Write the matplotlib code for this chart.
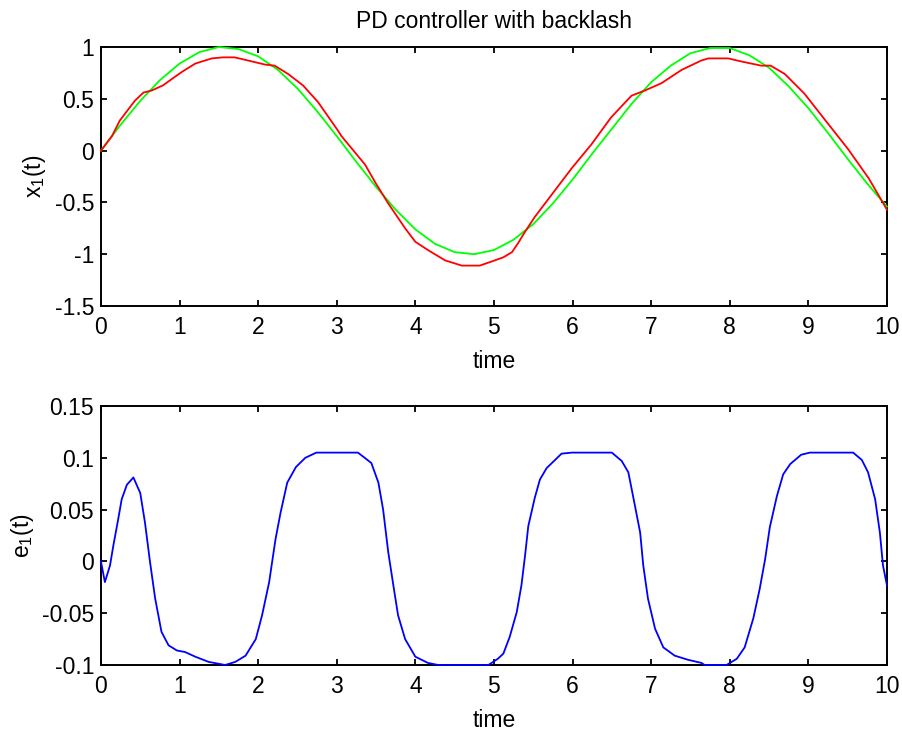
import matplotlib
matplotlib.use("Agg")
import matplotlib.pyplot as plt

# reference signal (green)
t_ref = [0.0, 0.25, 0.5, 0.75, 1.0, 1.25, 1.5, 1.75, 2.0, 2.25, 2.5, 2.75, 3.0, 3.25,
         3.5, 3.75, 4.0, 4.25, 4.5, 4.75, 5.0, 5.25, 5.5, 5.75, 6.0, 6.25, 6.5, 6.75,
         7.0, 7.25, 7.5, 7.75, 8.0, 8.25, 8.5, 8.75, 9.0, 9.25, 9.5, 9.75, 10.0]
x_ref = [0.00, 0.25, 0.48, 0.68, 0.84, 0.95, 1.00, 0.98, 0.91, 0.78, 0.60, 0.38, 0.14, -0.11,
         -0.35, -0.57, -0.76, -0.90, -0.98, -1.00, -0.96, -0.86, -0.71, -0.51, -0.28, -0.03, 0.21, 0.45,
         0.66, 0.82, 0.94, 0.99, 0.99, 0.92, 0.80, 0.62, 0.41, 0.17, -0.08, -0.32, -0.54]

# plant output x1 (red)
t_x1 = [0.0, 0.14, 0.24, 0.35, 0.43, 0.54, 0.645, 0.79, 0.90, 1.03, 1.20, 1.41, 1.55, 1.70,
        1.87, 2.09, 2.21, 2.38, 2.57, 2.76, 3.0, 3.06, 3.36, 3.5, 3.655, 3.87, 4.0, 4.16, 4.38,
        4.59, 4.82, 5.01, 5.12, 5.23, 5.31, 5.39, 5.52, 5.73, 5.99, 6.24, 6.49, 6.75, 6.92,
        7.13, 7.39, 7.64, 7.73, 7.98, 8.15, 8.40, 8.52, 8.70, 8.95, 9.25, 9.51, 9.77, 10.0]
x1 = [0.0, 0.14, 0.29, 0.40, 0.48, 0.56, 0.58, 0.63, 0.69, 0.76, 0.84, 0.89, 0.90, 0.90,
      0.87, 0.83, 0.82, 0.74, 0.63, 0.47, 0.21, 0.14, -0.135, -0.32, -0.51, -0.75, -0.88, -0.96, -1.06,
      -1.11, -1.11, -1.06, -1.03, -0.98, -0.89, -0.79, -0.64, -0.43, -0.17, 0.06, 0.32, 0.53, 0.58,
      0.65, 0.78, 0.87, 0.89, 0.89, 0.86, 0.82, 0.82, 0.74, 0.55, 0.26, 0.01, -0.27, -0.57]

# tracking error e1 (blue)
t_e = [0.0, 0.05, 0.115, 0.157, 0.22, 0.264, 0.33, 0.413, 0.50, 0.56, 0.625, 0.69, 0.77, 0.86,
       0.966, 1.07, 1.2, 1.37, 1.58, 1.71, 1.84, 1.97, 2.05, 2.14, 2.22, 2.285, 2.37, 2.48,
       2.60, 2.74, 3.27, 3.44, 3.53, 3.59, 3.655, 3.72, 3.78, 3.87, 4.00, 4.16, 4.29, 4.93,
       5.05, 5.12, 5.20, 5.29, 5.35, 5.395, 5.437, 5.52, 5.585, 5.67, 5.86, 5.99, 6.50, 6.625,
       6.71, 6.77, 6.86, 6.90, 6.96, 7.05, 7.155, 7.30, 7.47, 7.64, 7.68, 7.96, 8.09, 8.19,
       8.30, 8.38, 8.45, 8.51, 8.60, 8.68, 8.77, 8.91, 9.02, 9.57, 9.68, 9.76, 9.85, 9.91,
       9.95, 10.0]
e1 = [0.0, -0.020, -0.004, 0.015, 0.041, 0.060, 0.074, 0.081, 0.066, 0.0375, -0.001, -0.036, -0.068, -0.081,
      -0.086, -0.0875, -0.092, -0.097, -0.100, -0.097, -0.091, -0.075, -0.052, -0.020, 0.021, 0.047, 0.076, 0.091,
      0.100, 0.105, 0.105, 0.095, 0.076, 0.050, 0.009, -0.023, -0.052, -0.075, -0.092, -0.098, -0.100, -0.100,
      -0.094, -0.089, -0.073, -0.049, -0.023, 0.005, 0.034, 0.0615, 0.079, 0.090, 0.104, 0.105, 0.105, 0.097,
      0.086, 0.063, 0.028, -0.004, -0.036, -0.065, -0.083, -0.091, -0.095, -0.098, -0.100, -0.100, -0.094, -0.083,
      -0.055, -0.027, 0.002, 0.033, 0.063, 0.084, 0.094, 0.103, 0.105, 0.105, 0.098, 0.086, 0.060, 0.028,
      -0.004, -0.023]

x_ticks = [0, 1, 2, 3, 4, 5, 6, 7, 8, 9, 10]
top_yticks = [-1.5, -1, -0.5, 0, 0.5, 1]
top_ylabels = ['-1.5', '-1', '-0.5', '0', '0.5', '1']
bot_yticks = [-0.1, -0.05, 0, 0.05, 0.1, 0.15]
bot_ylabels = ['-0.1', '-0.05', '0', '0.05', '0.1', '0.15']

plt.rcParams['font.family'] = ['Liberation Sans', 'DejaVu Sans']
plt.rcParams['font.size'] = 16.5
plt.rcParams['mathtext.default'] = 'regular'
plt.rcParams['axes.linewidth'] = 1.4


def style_axes(ax, yticks, ylabels):
    ax.set_xlim(0, 10)
    ax.set_xticks(x_ticks)
    ax.set_xticklabels([str(v) for v in x_ticks])
    ax.set_ylim(yticks[0], yticks[-1])
    ax.set_yticks(yticks)
    ax.set_yticklabels(ylabels)
    ax.tick_params(direction='in', top=True, right=True, length=4.5, width=1.3)
    ax.tick_params(axis='x', pad=7)
    ax.tick_params(axis='y', pad=5)
    ax.set_xlabel('time', labelpad=8)


fig = plt.figure(figsize=(9.03, 7.31), dpi=100)
ax1 = fig.add_axes([0.1118, 0.5814, 0.8704, 0.3543])
ax2 = fig.add_axes([0.1118, 0.0903, 0.8704, 0.3543])

ax1.plot(t_ref, x_ref, color=(0, 1, 0), linewidth=1.3, zorder=3, clip_on=False)
ax1.plot(t_x1, x1, color=(1, 0, 0), linewidth=1.3, zorder=3, clip_on=False)
style_axes(ax1, top_yticks, top_ylabels)
ax1.set_ylabel('x$_1$(t)')
ax1.yaxis.set_label_coords(-0.068, 0.5)
ax1.set_title('PD controller with backlash', pad=13.5, fontsize=16.5)

ax2.plot(t_e, e1, color=(0, 0, 1), linewidth=1.3, zorder=3, clip_on=False)
style_axes(ax2, bot_yticks, bot_ylabels)
ax2.set_ylabel('e$_1$(t)')
ax2.yaxis.set_label_coords(-0.083, 0.5)

fig.savefig('out.png', dpi=100)
